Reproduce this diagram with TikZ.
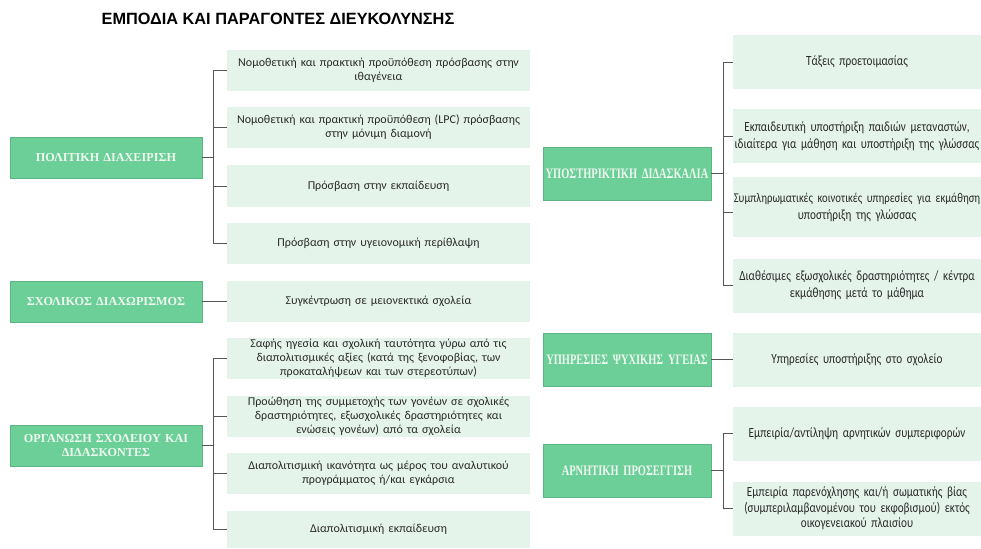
\documentclass[tikz,border=0pt]{standalone}
\usepackage{fontspec}
\setmainfont{Carlito}
\newfontfamily\titlefont{Liberation Sans}
\newfontfamily\pserif{Liberation Serif}
\newfontfamily\pcond[FakeStretch=0.72]{Liberation Serif}
\newfontfamily\lcond[FakeStretch=0.8]{Carlito}
\definecolor{pgreen}{HTML}{6DCF98}
\definecolor{pedge}{HTML}{5DB586}
\definecolor{lgreen}{HTML}{E5F4EB}
\definecolor{ptext}{HTML}{EEF8F1}
\definecolor{ltext}{HTML}{2A2A2A}
\definecolor{conn}{HTML}{555555}
\tikzset{
  leafL/.style={fill=lgreen, draw=none, inner sep=0pt, minimum width=303pt, minimum height=41pt,
    text width=300pt, align=center, text=ltext, font=\fontsize{12}{14}\selectfont},
  leafR/.style={fill=lgreen, draw=none, inner sep=0pt, minimum width=248pt, minimum height=54pt,
    text width=246pt, align=center, text=ltext, font=\lcond\fontsize{14}{17}\selectfont},
  parL/.style={fill=pgreen, draw=pedge, line width=0.8pt, inner sep=0pt, minimum width=192pt, minimum height=41pt,
    text width=188pt, align=center, text=ptext, font=\pserif\bfseries\fontsize{12.2}{14}\selectfont},
  parR/.style={fill=pgreen, draw=pedge, line width=0.8pt, inner sep=0pt, minimum width=168pt, minimum height=53pt,
    text width=166pt, align=center, text=ptext, font=\pcond\bfseries\fontsize{14.5}{16}\selectfont},
  conn/.style={draw=conn, line width=0.8pt},
  ttl/.style={font=\titlefont\bfseries\fontsize{16.3}{19}\selectfont, text=black, inner sep=0pt}
}
\begin{document}
\begin{tikzpicture}[x=1pt,y=-1pt]
\useasboundingbox[fill=white] (0,0) rectangle (981,548);
\node[ttl] (title) at (278,19) {ΕΜΠΟΔΙΑ ΚΑΙ ΠΑΡΑΓΟΝΤΕΣ ΔΙΕΥΚΟΛΥΝΣΗΣ};
% left parents
\node[parL] (P1) at (106,157.5) {ΠΟΛΙΤΙΚΗ ΔΙΑΧΕΙΡΙΣΗ};
\node[parL] (P2) at (106,301.5) {ΣΧΟΛΙΚΟΣ ΔΙΑΧΩΡΙΣΜΟΣ};
\node[parL] (P3) at (106,445.5) {ΟΡΓΑΝΩΣΗ ΣΧΟΛΕΙΟΥ ΚΑΙ\\ΔΙΔΑΣΚΟΝΤΕΣ};
% left leaves
\node[leafL] (L1) at (378.5,70.5) {Νομοθετική και πρακτική προϋπόθεση πρόσβασης στην\\ιθαγένεια};
\node[leafL] (L2) at (378.5,127.5) {Νομοθετική και πρακτική προϋπόθεση (LPC) πρόσβασης\\στην μόνιμη διαμονή};
\node[leafL] (L3) at (378.5,186) {Πρόσβαση στην εκπαίδευση};
\node[leafL] (L4) at (378.5,243.5) {Πρόσβαση στην υγειονομική περίθλαψη};
\node[leafL] (L5) at (378.5,301.5) {Συγκέντρωση σε μειονεκτικά σχολεία};
\node[leafL] (L6) at (378.5,358.5) {Σαφής ηγεσία και σχολική ταυτότητα γύρω από τις\\διαπολιτισμικές αξίες (κατά της ξενοφοβίας, των\\προκαταλήψεων και των στερεοτύπων)};
\node[leafL] (L7) at (378.5,416) {Προώθηση της συμμετοχής των γονέων σε σχολικές\\δραστηριότητες, εξωσχολικές δραστηριότητες και\\ενώσεις γονέων) από τα σχολεία};
\node[leafL] (L8) at (378.5,473.5) {Διαπολιτισμική ικανότητα ως μέρος του αναλυτικού\\προγράμματος ή/και εγκάρσια};
\node[leafL, minimum height=37pt] (L9) at (378.5,529.5) {Διαπολιτισμική εκπαίδευση};
% right parents
\node[parR] (R1) at (627,173.5) {ΥΠΟΣΤΗΡΙΚΤΙΚΗ ΔΙΔΑΣΚΑΛΙΑ};
\node[parR] (R2) at (627,359.5) {ΥΠΗΡΕΣΙΕΣ ΨΥΧΙΚΗΣ ΥΓΕΙΑΣ};
\node[parR] (R3) at (627,470.5) {ΑΡΝΗΤΙΚΗ ΠΡΟΣΕΓΓΙΣΗ};
% right leaves
\node[leafR] (RL1) at (857,62) {Τάξεις προετοιμασίας};
\node[leafR] (RL2) at (857,136) {Εκπαιδευτική υποστήριξη παιδιών μεταναστών,\\ιδιαίτερα για μάθηση και υποστήριξη της γλώσσας};
\node[leafR, minimum height=60pt] (RL3) at (857,207) {\makebox[0pt][c]{\fontsize{13.4}{17}\selectfont Συμπληρωματικές κοινοτικές υπηρεσίες για εκμάθηση}\\υποστήριξη της γλώσσας};
\node[leafR] (RL4) at (857,285.5) {Διαθέσιμες εξωσχολικές δραστηριότητες / κέντρα\\εκμάθησης μετά το μάθημα};
\node[leafR] (RL5) at (857,359.5) {Υπηρεσίες υποστήριξης στο σχολείο};
\node[leafR] (RL6) at (857,433.5) {Εμπειρία/αντίληψη αρνητικών συμπεριφορών};
\node[leafR, font=\lcond\fontsize{14}{15.5}\selectfont] (RL7) at (857,508.5) {Εμπειρία παρενόχλησης και/ή σωματικής βίας\\(συμπεριλαμβανομένου του εκφοβισμού) εκτός\\οικογενειακού πλαισίου};
% connectors left
\coordinate (TA) at ([xshift=11pt]P1.east);
\coordinate (TB) at ([xshift=11pt]P3.east);
\draw[conn] (P1.east) -- (TA);
\foreach \l in {L1,L2,L3,L4} \draw[conn] (TA) |- (\l.west);
\draw[conn] (P2.east) -- (L5.west);
\draw[conn] (P3.east) -- (TB);
\foreach \l in {L6,L7,L8,L9} \draw[conn] (TB) |- (\l.west);
% connectors right
\coordinate (TC) at ([xshift=12pt]R1.east);
\coordinate (TD) at ([xshift=12pt]R3.east);
\draw[conn] (R1.east) -- (TC);
\draw[conn] (TC) |- (RL1.west);
\draw[conn] (TC) |- (RL2.west);
\draw[conn] (TC) |- ([yshift=-5pt]RL3.west);
\draw[conn] (TC) |- (RL4.west);
\draw[conn] (R2.east) -- (RL5.west);
\draw[conn] (R3.east) -- (TD);
\draw[conn] (TD) |- (RL6.west);
\draw[conn] (TD) |- (RL7.west);
\end{tikzpicture}
\end{document}
